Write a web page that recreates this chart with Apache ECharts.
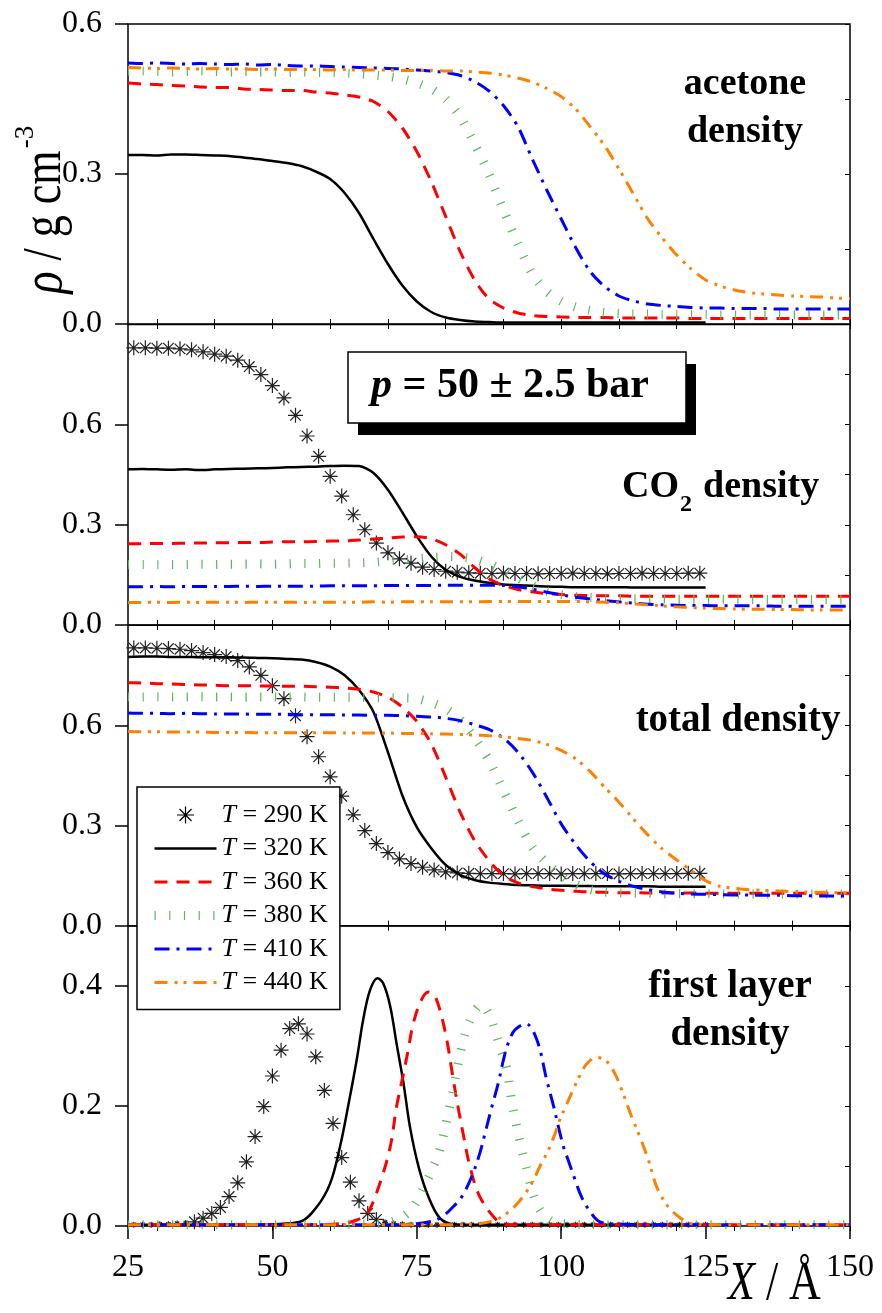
<!DOCTYPE html>
<html><head><meta charset="utf-8">
<script src="https://cdn.jsdelivr.net/npm/echarts@6/dist/echarts.min.js"></script>
<style>html,body{margin:0;padding:0;background:#fff}#c{width:882px;height:1313px}</style>
</head><body><div id="c"></div>
<script>
// ---------- data ----------
const X = [25,27.5,30,32.5,35,37.5,40,42.5,45,47.5,50,52.5,55,57.5,60,62.5,65,67.5,70,72.5,75,77.5,80,82.5,85,87.5,90,92.5,95,97.5,100,102.5,105,107.5,110,112.5,115,117.5,120,122.5,125,127.5,130,132.5,135,137.5,140,142.5,145,147.5,150];
const xTicks = [25,50,75,100,125,150];
const yTicks1 = [0.0,0.3,0.6];
const yTicks4 = [0.0,0.2,0.4];

// acetone density
const ac320 = [0.338,0.338,0.337,0.339,0.339,0.338,0.337,0.336,0.333,0.330,0.326,0.322,0.316,0.305,0.290,0.262,0.222,0.170,0.120,0.077,0.045,0.024,0.013,0.008,0.005,0.004,0.003,0.003,0.003,0.003,0.003,0.003,0.003,0.003,0.003,0.003,0.003,0.003,0.003,0.003,0.003];
const ac360 = [0.482,0.480,0.479,0.477,0.476,0.474,0.473,0.473,0.470,0.469,0.468,0.467,0.467,0.464,0.462,0.458,0.454,0.445,0.425,0.392,0.345,0.285,0.215,0.145,0.088,0.050,0.032,0.022,0.017,0.015,0.014,0.013,0.013,0.013,0.012,0.012,0.012,0.012,0.012,0.011,0.011,0.011,0.011,0.011,0.011,0.011,0.011,0.011,0.011,0.011,0.011];
const ac380 = [0.505,0.506,0.505,0.504,0.505,0.506,0.505,0.504,0.505,0.504,0.504,0.503,0.504,0.503,0.503,0.502,0.500,0.498,0.495,0.490,0.482,0.470,0.450,0.415,0.360,0.300,0.228,0.160,0.100,0.065,0.045,0.034,0.027,0.023,0.021,0.020,0.020,0.019,0.019,0.019,0.019,0.018,0.018,0.018,0.018,0.018,0.018,0.018,0.018,0.018,0.018];
const ac410 = [0.522,0.521,0.522,0.521,0.520,0.521,0.520,0.519,0.520,0.518,0.519,0.517,0.516,0.516,0.515,0.514,0.513,0.512,0.511,0.510,0.508,0.506,0.503,0.497,0.485,0.466,0.437,0.395,0.330,0.268,0.210,0.153,0.105,0.075,0.056,0.046,0.040,0.037,0.035,0.033,0.032,0.032,0.031,0.031,0.031,0.030,0.030,0.030,0.030,0.030,0.030];
const ac440 = [0.513,0.512,0.511,0.512,0.511,0.510,0.511,0.510,0.510,0.509,0.510,0.509,0.509,0.509,0.508,0.509,0.508,0.508,0.508,0.507,0.507,0.507,0.506,0.506,0.504,0.502,0.498,0.492,0.484,0.471,0.455,0.430,0.395,0.357,0.310,0.260,0.210,0.172,0.138,0.110,0.088,0.076,0.068,0.063,0.060,0.058,0.056,0.055,0.054,0.052,0.051];

// CO2 density
const x290 = [26,28,30,32,34,36,38,40,42,44,46,48,50,52,54,56,58,60,62,64,66,68,70,72,74,76,78,80,82,84,86,88,90,92,94,96,98,100,102,104,106,108,110,112,114,116,118,120,122,124];
const co290 = [0.830,0.830,0.829,0.829,0.827,0.824,0.818,0.811,0.805,0.793,0.774,0.750,0.717,0.680,0.628,0.566,0.505,0.445,0.386,0.330,0.285,0.245,0.216,0.198,0.185,0.173,0.166,0.161,0.158,0.156,0.155,0.154,0.155,0.154,0.154,0.153,0.154,0.154,0.155,0.154,0.154,0.153,0.154,0.154,0.155,0.154,0.154,0.154,0.155,0.155];
const co320 = [0.466,0.467,0.466,0.465,0.466,0.464,0.466,0.467,0.468,0.469,0.470,0.472,0.473,0.474,0.476,0.477,0.476,0.455,0.405,0.337,0.266,0.205,0.165,0.144,0.133,0.126,0.121,0.119,0.117,0.115,0.114,0.113,0.113,0.113,0.113,0.112,0.112,0.112,0.112,0.112,0.112];
const co360 = [0.243,0.243,0.244,0.244,0.245,0.245,0.246,0.246,0.247,0.247,0.248,0.249,0.249,0.250,0.251,0.252,0.254,0.257,0.260,0.263,0.264,0.258,0.240,0.212,0.172,0.138,0.118,0.106,0.099,0.094,0.091,0.089,0.088,0.087,0.087,0.086,0.086,0.086,0.086,0.086,0.086,0.086,0.086,0.086,0.086,0.086,0.086,0.086,0.086,0.086,0.086];
const co380 = [0.180,0.181,0.180,0.181,0.181,0.182,0.181,0.182,0.182,0.183,0.182,0.183,0.184,0.184,0.185,0.185,0.186,0.188,0.191,0.195,0.199,0.202,0.204,0.203,0.197,0.183,0.163,0.140,0.118,0.101,0.091,0.085,0.082,0.080,0.079,0.078,0.078,0.078,0.077,0.077,0.077,0.077,0.077,0.076,0.076,0.076,0.076,0.076,0.076,0.076,0.076];
const co410 = [0.114,0.114,0.115,0.114,0.115,0.115,0.115,0.115,0.116,0.115,0.116,0.116,0.116,0.116,0.117,0.117,0.117,0.117,0.118,0.118,0.118,0.118,0.119,0.119,0.119,0.119,0.118,0.114,0.107,0.098,0.090,0.083,0.078,0.073,0.069,0.065,0.062,0.060,0.059,0.058,0.058,0.057,0.057,0.057,0.057,0.056,0.056,0.056,0.056,0.056,0.056];
const co440 = [0.067,0.067,0.068,0.067,0.068,0.067,0.068,0.068,0.067,0.068,0.068,0.068,0.067,0.068,0.068,0.068,0.068,0.069,0.068,0.069,0.069,0.069,0.069,0.069,0.069,0.070,0.070,0.070,0.070,0.070,0.070,0.070,0.069,0.068,0.066,0.063,0.060,0.057,0.054,0.052,0.050,0.049,0.048,0.047,0.047,0.046,0.046,0.045,0.045,0.045,0.045];

// total density
const to290 = [0.832,0.832,0.831,0.830,0.828,0.824,0.818,0.812,0.806,0.794,0.775,0.750,0.719,0.680,0.629,0.566,0.506,0.446,0.388,0.332,0.285,0.246,0.219,0.200,0.186,0.175,0.167,0.161,0.158,0.157,0.156,0.156,0.156,0.155,0.156,0.156,0.156,0.155,0.156,0.156,0.156,0.156,0.155,0.156,0.156,0.156,0.156,0.156,0.157,0.157];
const to320 = [0.805,0.806,0.806,0.805,0.805,0.804,0.804,0.803,0.803,0.802,0.801,0.799,0.797,0.790,0.776,0.750,0.706,0.640,0.520,0.390,0.295,0.232,0.182,0.152,0.137,0.129,0.125,0.122,0.121,0.120,0.120,0.119,0.119,0.118,0.118,0.118,0.118,0.117,0.117,0.117,0.117];
const to360 = [0.728,0.727,0.725,0.724,0.722,0.721,0.720,0.719,0.719,0.718,0.718,0.717,0.717,0.716,0.714,0.712,0.708,0.700,0.684,0.655,0.612,0.545,0.445,0.340,0.255,0.195,0.150,0.128,0.117,0.110,0.106,0.103,0.101,0.100,0.099,0.099,0.098,0.098,0.098,0.098,0.097,0.097,0.097,0.097,0.097,0.097,0.097,0.097,0.097,0.097,0.097];
const to380 = [0.686,0.685,0.686,0.685,0.685,0.686,0.685,0.685,0.684,0.685,0.685,0.684,0.685,0.684,0.684,0.684,0.684,0.683,0.683,0.682,0.680,0.668,0.650,0.618,0.562,0.495,0.405,0.315,0.235,0.188,0.152,0.124,0.108,0.101,0.098,0.097,0.097,0.096,0.096,0.096,0.096,0.095,0.095,0.095,0.095,0.095,0.095,0.095,0.095,0.095,0.095];
const to410 = [0.637,0.636,0.636,0.635,0.636,0.635,0.634,0.634,0.634,0.633,0.633,0.633,0.632,0.632,0.632,0.631,0.631,0.630,0.630,0.629,0.627,0.625,0.621,0.614,0.602,0.588,0.562,0.520,0.460,0.385,0.305,0.243,0.192,0.155,0.133,0.118,0.108,0.101,0.097,0.095,0.094,0.093,0.092,0.092,0.091,0.091,0.090,0.090,0.089,0.089,0.089];
const to440 = [0.582,0.581,0.581,0.580,0.580,0.580,0.579,0.579,0.579,0.578,0.578,0.578,0.578,0.578,0.578,0.577,0.577,0.577,0.577,0.576,0.576,0.575,0.574,0.573,0.571,0.569,0.566,0.561,0.555,0.543,0.525,0.500,0.462,0.415,0.370,0.320,0.272,0.230,0.197,0.165,0.135,0.118,0.112,0.108,0.106,0.104,0.102,0.101,0.100,0.099,0.099];

// first layer density
const fx290 = [26,27.5,29,30.5,32,33.5,35,36.5,38,39.5,41,42.5,44,45.5,47,48.5,50,51.5,53,54.5,56,57.5,59,60.5,62,63.5,65,66.5,68,69.5,71,72.5,74,75.5,77,78.5,80,81.5,83,84.5,86,87.5,89,90.5,92,93.5,95,96.5,98,99.5,101,102.5,104,105.5,107,108.5,110,111.5,113,114.5,116,117.5,119,120.5,122,123.5,125];
const fl290 = [0.002,0.002,0.002,0.003,0.003,0.004,0.005,0.007,0.013,0.021,0.031,0.049,0.072,0.107,0.149,0.199,0.250,0.293,0.329,0.337,0.320,0.282,0.226,0.171,0.114,0.073,0.042,0.021,0.011,0.006,0.004,0.003,0.002,0.002,0.002,0.002,0.002,0.002,0.002,0.002,0.002,0.002,0.002,0.002,0.002,0.002,0.002,0.002,0.002,0.002,0.002,0.002,0.002,0.002,0.002,0.002,0.002,0.002,0.002,0.002,0.002,0.002,0.002,0.002,0.002,0.002,0.002];
const fx320 = [25,35,45,50,54.8,57.7,60,61.7,63.1,64.6,65.7,66.9,68.2,69.2,70.4,71.5,72.7,73.8,75.3,77,79,81.3,85,95,105,115,125];
const fl320 = [0.002,0.002,0.002,0.003,0.007,0.032,0.071,0.132,0.199,0.277,0.343,0.393,0.413,0.404,0.366,0.304,0.238,0.166,0.099,0.049,0.013,0.003,0.002,0.002,0.002,0.002,0.002];
const fx360 = [25,40,55,62,64.6,66.5,68.6,70.4,71.5,72.7,73.5,74.4,75.8,77,78,79,80.2,81.3,82.2,83.1,84.2,85.9,88.8,90.6,95,105,115,125,135,150];
const fl360 = [0.002,0.002,0.002,0.004,0.010,0.022,0.071,0.132,0.199,0.254,0.293,0.338,0.377,0.390,0.385,0.360,0.310,0.245,0.195,0.150,0.099,0.049,0.010,0.002,0.002,0.002,0.002,0.002,0.002,0.002];
const fx380 = [25,50,65,70,72.5,74.4,76.5,77.9,79,80.2,81.3,82.8,84.5,86.2,87.7,88.5,89.4,90.6,91.4,92.3,93.2,94.3,95.2,96.3,98,100,110,125,150];
const fl380 = [0.002,0.002,0.003,0.006,0.015,0.032,0.070,0.100,0.127,0.177,0.227,0.299,0.349,0.368,0.349,0.327,0.299,0.262,0.210,0.165,0.127,0.085,0.052,0.027,0.010,0.004,0.002,0.002,0.002];
const fx410 = [25,50,70,76,79,81.3,82.8,84.5,85.9,86.8,88,89.1,90,90.8,92,93.9,95.8,97.5,98.7,99.5,100.4,101.2,102.4,103.5,105,106.7,110,120,135,150];
const fl410 = [0.002,0.002,0.002,0.005,0.013,0.032,0.049,0.082,0.121,0.154,0.199,0.238,0.277,0.304,0.327,0.337,0.310,0.243,0.199,0.166,0.132,0.110,0.077,0.049,0.024,0.007,0.003,0.002,0.002,0.002];
const fx440 = [25,60,80,86,88.5,90.6,92.9,94.9,96.3,97.8,98.9,99.8,101,102.1,103.3,104.4,106.1,107.9,109.3,110.7,112.2,113.6,115.1,116.5,118.3,120,121.7,123,130,140,150];
const fl440 = [0.002,0.002,0.002,0.004,0.010,0.021,0.043,0.071,0.099,0.127,0.153,0.178,0.204,0.228,0.252,0.270,0.281,0.274,0.254,0.221,0.182,0.149,0.110,0.066,0.035,0.018,0.007,0.003,0.002,0.002,0.002];

// ---------- styles / layout ----------
const FONT = "'Liberation Serif', 'Times New Roman', serif";
const N290='T = 290 K', N320='T = 320 K', N360='T = 360 K', N380='T = 380 K', N410='T = 410 K', N440='T = 440 K';
const STY = {};
STY[N320] = {color:'#000000', width:2.5, type:'solid'};
STY[N360] = {color:'#ff0000', width:3, type:[13,9]};
STY[N380] = {color:'#5cb85c', width:9, type:[1.2,13.5]};
STY[N410] = {color:'#0000ff', width:3, type:[15,7,3,7]};
STY[N440] = {color:'#ff8000', width:3, type:[13,7,3,6,3,7]};
const ASTER = 'path://M-10,0L10,0M0,-10L0,10M-7.07,-7.07L7.07,7.07M-7.07,7.07L7.07,-7.07';

const GT = [24, 324.5, 625.2, 926];
const GH = [300, 300.4, 300.5, 300];
const YMAX = [0.6, 0.9, 0.9, 0.5];
const YINT = [0.3, 0.3, 0.3, 0.2];
const RINT = [0.15, 0.15, 0.15, 0.1];

function pairs(xs, ys){ return ys.map((y,i)=>[xs[i], y]); }
function lineS(name, p, xs, ys, smooth){
  const s = STY[name];
  return {name, type:'line', xAxisIndex:p, yAxisIndex:p, data:pairs(xs,ys),
    showSymbol:false, symbol:'none', smooth:smooth, silent:true,
    lineStyle:{color:s.color, width:s.width, type:s.type, cap:'butt', join:'round'},
    itemStyle:{color:s.color}, z:3};
}
function astS(p, xs, ys){
  return {name:N290, type:'scatter', xAxisIndex:p, yAxisIndex:p, data:pairs(xs,ys),
    symbol:ASTER, symbolSize:(v)=> (v[1] > 0.0065 ? 15 : 6), silent:true,
    itemStyle:{color:'rgba(0,0,0,0)', borderColor:'#222', borderWidth:1.2, opacity:1}, z:2};
}

const grids = [], xAxes = [], yAxes = [];
for (let i=0;i<4;i++){
  grids.push({left:128, right:32, top:GT[i], height:GH[i], show:true, borderColor:'#000', borderWidth:1.5, backgroundColor:'rgba(0,0,0,0)', containLabel:false, outerBoundsMode:'none'});
}
for (let i=0;i<4;i++){
  grids.push({left:156.88, right:32, top:GT[i], height:GH[i], show:false, containLabel:false, outerBoundsMode:'none'});
}
for (let i=0;i<4;i++){
  xAxes.push({type:'value', gridIndex:i, min:xTicks[0], max:xTicks[xTicks.length-1], interval:25,
    axisLine:{show:false}, splitLine:{show:false},
    axisTick:{show:i===3, inside:false, length:13, lineStyle:{color:'#000', width:1.5}},
    axisLabel:{show:i===3, fontFamily:FONT, fontSize:32, color:'#000', margin:26}});
}
for (let i=0;i<4;i++){
  xAxes.push({type:'value', gridIndex:4+i, position:'top', min:30, max:150, interval:10,
    axisLine:{show:false}, splitLine:{show:false}, axisLabel:{show:false},
    axisTick:{show:true, inside:true, length:5, lineStyle:{color:'#000', width:1}}});
}
for (let i=0;i<3;i++){
  xAxes.push({type:'value', gridIndex:4+i, position:'bottom', min:30, max:150, interval:10,
    axisLine:{show:false}, splitLine:{show:false}, axisLabel:{show:false},
    axisTick:{show:true, inside:true, length:5, lineStyle:{color:'#000', width:1}}});
}
for (let i=0;i<4;i++){
  yAxes.push({type:'value', gridIndex:i, position:'left', min:0, max:YMAX[i], interval:YINT[i],
    axisLine:{show:false}, splitLine:{show:false},
    axisTick:{show:true, inside:false, length:13, lineStyle:{color:'#000', width:1.5}},
    axisLabel:{fontFamily:FONT, fontSize:32, color:'#000', margin:26, showMinLabel:true, showMaxLabel:i===0,
      formatter:(v)=>v.toFixed(1)}});
}
for (let i=0;i<4;i++){
  yAxes.push({type:'value', gridIndex:i, position:'right', min:0, max:YMAX[i], interval:RINT[i],
    axisLine:{show:false}, splitLine:{show:false}, axisLabel:{show:false},
    axisTick:{show:true, inside:true, length:5, lineStyle:{color:'#000', width:1}}});
}
for (let i=0;i<4;i++){
  yAxes.push({type:'value', gridIndex:4+i, show:false, min:0, max:1});
}

const SM = 0.25, SM4 = 0.35;
const series = [
  // panel 0 acetone
  lineS(N320,0,X,ac320,SM), lineS(N360,0,X,ac360,SM), lineS(N380,0,X,ac380,SM), lineS(N410,0,X,ac410,SM), lineS(N440,0,X,ac440,SM),
  // panel 1 CO2
  astS(1,x290,co290),
  lineS(N320,1,X,co320,SM), lineS(N360,1,X,co360,SM), lineS(N380,1,X,co380,SM), lineS(N410,1,X,co410,SM), lineS(N440,1,X,co440,SM),
  // panel 2 total
  astS(2,x290,to290),
  lineS(N320,2,X,to320,SM), lineS(N360,2,X,to360,SM), lineS(N380,2,X,to380,SM), lineS(N410,2,X,to410,SM), lineS(N440,2,X,to440,SM),
  // panel 3 first layer
  astS(3,fx290,fl290),
  lineS(N320,3,fx320,fl320,SM4), lineS(N360,3,fx360,fl360,SM4), lineS(N380,3,fx380,fl380,SM4), lineS(N410,3,fx410,fl410,SM4), lineS(N440,3,fx440,fl440,SM4)
];

const legendData = [{name:N290, itemStyle:{opacity:1, color:'rgba(0,0,0,0)', borderColor:'#000', borderWidth:1.2}}];
[N320,N360,N380,N410,N440].forEach(n=>{
  legendData.push({name:n, lineStyle:{color:STY[n].color, width:STY[n].width, type:STY[n].type, cap:'butt'}});
});

function txt(x, y, text, size, align){
  align = align || 'center';
  return {type:'text', x:x, y:y, z:60, silent:true,
    style:{text:text, fontFamily:FONT, fontSize:size, fontWeight:'bold', fill:'#000',
      align:align, verticalAlign:'middle', textAlign:align, textVerticalAlign:'middle'}};
}

const graphics = [
  // y-axis title
  {type:'text', x:46, y:222, rotation:Math.PI/2, scaleY:1.25, z:60, silent:true,
    style:{text:'{i|ρ} / g cm', fontFamily:FONT, fontSize:44, fill:'#000', align:'center', verticalAlign:'middle', textAlign:'center', textVerticalAlign:'middle',
      rich:{i:{fontStyle:'italic', fontFamily:FONT, fontSize:46, fill:'#000'}}}},
  {type:'text', x:26, y:137, rotation:Math.PI/2, z:60, silent:true,
    style:{text:'-3', fontFamily:FONT, fontSize:27, fill:'#000', align:'center', verticalAlign:'middle', textAlign:'center', textVerticalAlign:'middle'}},
  // x-axis title
  {type:'text', x:728, y:1285, scaleY:1.25, z:60, silent:true,
    style:{text:'{i|X} / Å', fontFamily:FONT, fontSize:44, fill:'#000', align:'left', verticalAlign:'middle', textAlign:'left', textVerticalAlign:'middle',
      rich:{i:{fontStyle:'italic', fontFamily:FONT, fontSize:44, fill:'#000'}}}},
  // panel labels
  txt(745, 84.5, 'acetone', 38),
  txt(745, 132.5, 'density', 38),
  txt(622, 487.5, 'CO', 38, 'left'),
  txt(680, 505, '2', 24, 'left'),
  txt(703, 487.5, 'density', 38, 'left'),
  txt(738, 720.5, 'total density', 39),
  txt(730, 987, 'first layer', 39),
  txt(730, 1035, 'density', 39),
  // pressure box
  {type:'rect', z:55, silent:true, shape:{x:358, y:364, width:338, height:71}, style:{fill:'#000'}},
  {type:'rect', z:56, silent:true, shape:{x:348, y:352, width:338, height:71}, style:{fill:'#fff', stroke:'#000', lineWidth:1.5}},
  {type:'text', x:510, y:386, z:60, silent:true,
    style:{text:'{i|p} = 50 ± 2.5 bar', fontFamily:FONT, fontSize:42, fontWeight:'bold', fill:'#000', align:'center', verticalAlign:'middle', textAlign:'center', textVerticalAlign:'middle',
      rich:{i:{fontStyle:'italic', fontWeight:'bold', fontFamily:FONT, fontSize:42, fill:'#000'}}}}
];

const option = {
  animation:false,
  backgroundColor:'#fff',
  grid:grids, xAxis:xAxes, yAxis:yAxes, series:series,
  legend:{
    orient:'vertical', left:137, top:787, padding:[15,12,14,13], itemGap:7.5,
    itemWidth:62, itemHeight:17, selectedMode:false,
    backgroundColor:'#fff', borderColor:'#000', borderWidth:1.5, borderRadius:0,
    itemStyle:{opacity:0},
    textStyle:{fontFamily:FONT, fontSize:26, color:'#000', lineHeight:26,
      rich:{i:{fontStyle:'italic', fontFamily:FONT, fontSize:26, color:'#000', lineHeight:26}}},
    formatter:(n)=>n.replace('T','{i|T}'),
    data:legendData, z:20
  },
  graphic:{elements:graphics}
};
const chart = echarts.init(document.getElementById('c'), null, {renderer:'canvas'});
chart.setOption(option);
</script></body></html>
